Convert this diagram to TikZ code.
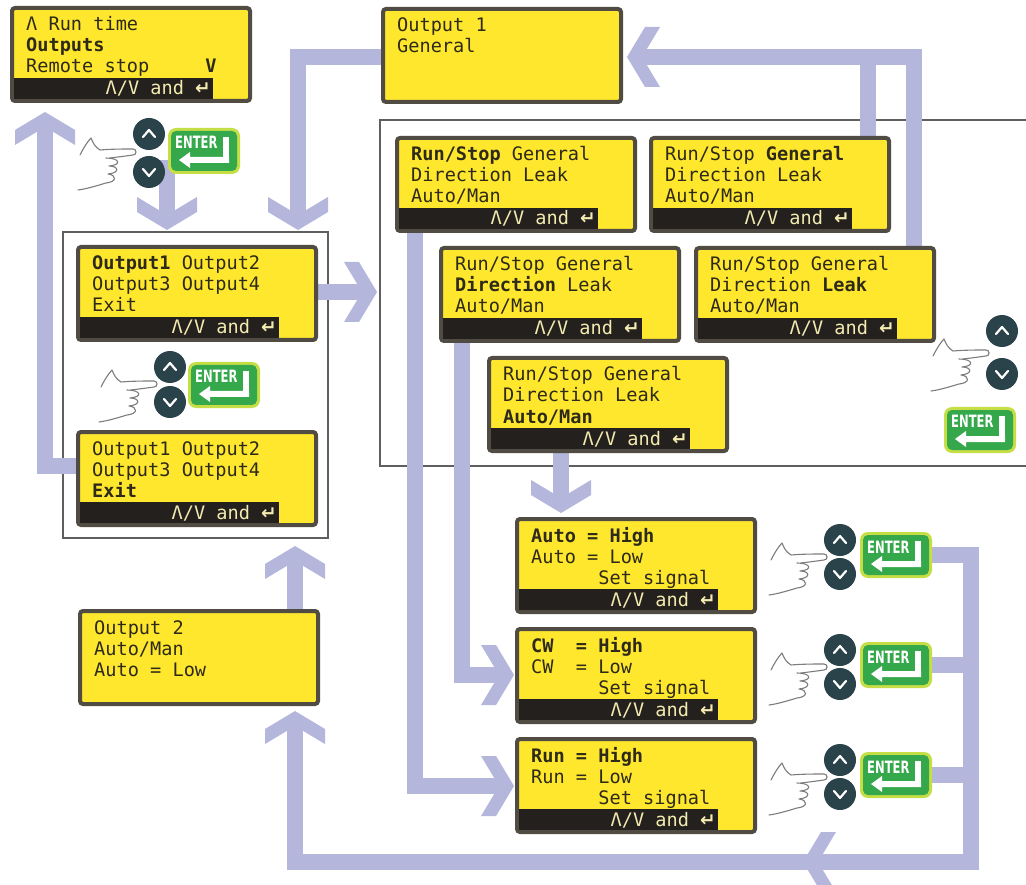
\documentclass[tikz,border=0pt]{standalone}
\usepackage{fontspec}
\newfontfamily\lcdfam{DejaVu Sans Mono}
\newfontfamily\symfam{DejaVu Sans}
\newfontfamily\entfam{DejaVu Sans}[FakeStretch=0.68]
\usetikzlibrary{arrows.meta}
\pgfdeclarelayer{bg}
\pgfsetlayers{bg,main}

\definecolor{lcdyellow}{RGB}{255,231,45}
\definecolor{lcdborder}{RGB}{80,76,68}
\definecolor{lcdtext}{RGB}{45,42,25}
\definecolor{barblack}{RGB}{35,32,30}
\definecolor{bartext}{RGB}{242,234,175}
\definecolor{lav}{RGB}{180,182,220}
\definecolor{framegray}{RGB}{95,95,95}
\definecolor{btncol}{RGB}{42,66,74}
\definecolor{entgreen}{RGB}{52,168,74}
\definecolor{entglowc}{RGB}{198,222,70}
\definecolor{handgray}{RGB}{125,125,125}

\pgfdeclarearrow{
  name = Chev,
  parameters = {},
  setup code = {
    \pgfarrowssettipend{0pt}
    \pgfarrowssetlineend{-14pt}
    \pgfarrowssetvisualbackend{-33pt}
    \pgfarrowssetbackend{-33pt}
    \pgfarrowshullpoint{0pt}{0pt}
    \pgfarrowsupperhullpoint{-33pt}{30pt}
  },
  drawing code = {
    \pgfpathmoveto{\pgfqpoint{0pt}{0pt}}
    \pgfpathlineto{\pgfqpoint{-18pt}{30pt}}
    \pgfpathlineto{\pgfqpoint{-33pt}{30pt}}
    \pgfpathlineto{\pgfqpoint{-15pt}{0pt}}
    \pgfpathlineto{\pgfqpoint{-33pt}{-30pt}}
    \pgfpathlineto{\pgfqpoint{-18pt}{-30pt}}
    \pgfpathclose
    \pgfusepathqfill
  },
}

\newcommand\lcdfont{\lcdfam\fontsize{18.6}{21}\selectfont}
\tikzset{
  lcdbox/.style={draw=lcdborder, line width=4pt, fill=lcdyellow, rounded corners=3pt,
    minimum width=238pt, minimum height=93pt, inner sep=0pt, outer sep=0pt},
  lcdtxt/.style={anchor=base west, inner sep=0pt, text=lcdtext, font=\lcdfont},
  bartxt/.style={anchor=base east, inner sep=0pt, text=bartext, font=\lcdfont},
  flow/.style={draw=lav, line width=16pt, -{Chev}},
  frameline/.style={draw=framegray, line width=2pt},
  btn/.style={circle, fill=btncol, minimum size=32pt, inner sep=0pt},
  chevw/.style={draw=white, line width=2.2pt, line cap=round, line join=round},
  handline/.style={draw=handgray, line width=1.1pt, line cap=round, line join=round},
  entglow/.style={rounded corners=8pt, fill=entglowc, minimum width=72pt, minimum height=46pt, inner sep=0pt},
  enttxt/.style={anchor=base west, inner sep=0pt, text=white, font=\entfam\bfseries\fontsize{17}{17}\selectfont},
}

% LCD: name, x, y (top-left), three lines
\newcommand\mklcd[6]{%
  \node[lcdbox] (#1) at (#2+119,#3+46.5) {};
  \node[lcdtxt] (#1-a) at (#2+14,#3+23) {#4};
  \node[lcdtxt] (#1-b) at (#2+14,#3+44) {#5};
  \node[lcdtxt] (#1-c) at (#2+14,#3+65) {#6};
}
\newcommand\mkbar[3]{%
  \fill[barblack] (#2+2,#3+70) rectangle (#2+201,#3+91);
  \node[bartxt] (#1-bar) at (#2+199,#3+87) {Λ/V and {\symfam\bfseries ↵}};
}
% up/down buttons: name, cx, cy up, cy down
\newcommand\mkbtns[4]{%
  \node[btn] (#1-u) at (#2,#3) {};
  \node[btn] (#1-d) at (#2,#4) {};
  \draw[chevw] (#2-6,#3+3) -- (#2,#3-4) -- (#2+6,#3+3);
  \draw[chevw] (#2-6,#4-3) -- (#2,#4+4) -- (#2+6,#4-3);
}
% enter button: name, cx, cy
\newcommand\mkenter[3]{%
  \node[entglow] (#1) at (#2,#3) {};
  \fill[entgreen, rounded corners=5pt] (#2-33,#3-20) rectangle (#2+33,#3+20);
  \node[enttxt] (#1-t) at (#2-29,#3-2) {ENTER};
  \fill[white] (#2+19,#3-14) rectangle (#2+25,#3+12);
  \fill[white] (#2+25,#3+6) -- (#2-14,#3+6) -- (#2-14,#3+1) -- (#2-25,#3+9)
     -- (#2-14,#3+17) -- (#2-14,#3+12) -- (#2+25,#3+12) -- cycle;
}
% hand: fingertip x, y
\newcommand\mkhand[2]{%
  \begin{scope}[shift={(#1,#2)}]
  \draw[handline] (-56,2) .. controls (-52,-6) and (-48,-12) .. (-45,-15)
     .. controls (-43,-10) and (-41,-6) .. (-36,-3)
     .. controls (-25,-4) and (-12,-4) .. (-3,-4)
     .. controls (1,-4) and (1,2) .. (-3,2)
     .. controls (-10,3) and (-18,4) .. (-26,5);
  \draw[handline] (-30,5) .. controls (-16,5) and (-14,12) .. (-27,13)
     .. controls (-17,13) and (-16,20) .. (-28,21)
     .. controls (-19,22) and (-19,29) .. (-30,30)
     .. controls (-40,33) and (-50,36) .. (-58,37);
  \end{scope}
}

\begin{document}
\begin{tikzpicture}[x=1pt,y=-1pt]
\begin{pgfonlayer}{bg}
\fill[white] (0,0) rectangle (1026,885);
\end{pgfonlayer}
\useasboundingbox (0,0) rectangle (1026,885);

% ---------- LCD displays ----------
\mklcd{A}{12}{8}{Λ Run time}{\textbf{Outputs}}{Remote~stop~~~~~\textbf{V}}
\mkbar{A}{12}{8}
\mklcd{Out1}{383}{9}{Output~1}{General}{}
\mklcd{RS1}{397}{138}{\textbf{Run/Stop} General}{Direction Leak}{Auto/Man}
\mkbar{RS1}{397}{138}
\mklcd{RS2}{651}{138}{Run/Stop \textbf{General}}{Direction Leak}{Auto/Man}
\mkbar{RS2}{651}{138}
\mklcd{D1}{441}{248}{Run/Stop General}{\textbf{Direction} Leak}{Auto/Man}
\mkbar{D1}{441}{248}
\mklcd{D2}{696}{248}{Run/Stop General}{Direction \textbf{Leak}}{Auto/Man}
\mkbar{D2}{696}{248}
\mklcd{AM}{489}{358}{Run/Stop General}{Direction Leak}{\textbf{Auto/Man}}
\mkbar{AM}{489}{358}
\mklcd{O1}{78}{247}{\textbf{Output1} Output2}{Output3 Output4}{Exit}
\mkbar{O1}{78}{247}
\mklcd{EX}{78}{432}{Output1 Output2}{Output3 Output4}{\textbf{Exit}}
\mkbar{EX}{78}{432}
\mklcd{Out2}{80}{611}{Output~2}{Auto/Man}{Auto~=~Low}
\mklcd{AH}{517}{519}{\textbf{Auto~=~High}}{Auto~=~Low}{~~~~~~Set~signal}
\mkbar{AH}{517}{519}
\mklcd{CW}{517}{629}{\textbf{CW~~=~High}}{CW~~=~Low}{~~~~~~Set~signal}
\mkbar{CW}{517}{629}
\mklcd{RUN}{517}{739}{\textbf{Run~=~High}}{Run~=~Low}{~~~~~~Set~signal}
\mkbar{RUN}{517}{739}

% ---------- buttons ----------
\mkbtns{g1}{149}{134}{172}
\mkenter{e1}{204}{151}
\mkhand{136}{153}

\mkbtns{g2}{170}{367}{402}
\mkenter{e2}{224}{385}
\mkhand{157}{385}

\mkbtns{g3}{1002}{331}{374}
\mkenter{e3}{980}{430}
\mkhand{989}{354}

\mkbtns{g4}{840}{540}{574}
\mkenter{e4}{896}{555}
\mkhand{827}{558}

\mkbtns{g5}{840}{650}{684}
\mkenter{e5}{896}{665}
\mkhand{827}{668}

\mkbtns{g6}{840}{760}{794}
\mkenter{e6}{896}{775}
\mkhand{827}{778}

% ---------- frames and connectors (behind) ----------
\begin{pgfonlayer}{bg}
\draw[frameline] (1026,120) -- (380,120) -- (380,466) -- (1026,466);
\draw[frameline] (63,232) rectangle (328,538);

\coordinate (c1) at (45,466);  \coordinate (c1t) at (45,112);
\draw[flow] (EX.west |- c1) -- (c1) -- (c1t);

\coordinate (c2s) at (167,160); \coordinate (c2t) at (167,230);
\draw[flow] (c2s) -- (c2t);

\coordinate (c3) at (298,57); \coordinate (c3t) at (298,230);
\draw[flow] (Out1.west |- c3) -- (c3) -- (c3t);

\coordinate (c4t) at (377,292);
\draw[flow] (O1.east |- c4t) -- (c4t);

\coordinate (c5) at (914,57); \coordinate (c5t) at (627,57); \coordinate (c5b) at (868,57);
\draw[flow] (D2.north -| c5) -- (c5) -- (c5t);
\draw[flow,-] (RS2.north -| c5b) -- (c5b);

\coordinate (c6) at (415,786); \coordinate (c6t) at (514,786);
\draw[flow] (RS1.south -| c6) -- (c6) -- (c6t);

\coordinate (c7) at (462,675); \coordinate (c7t) at (514,675);
\draw[flow] (D1.south -| c7) -- (c7) -- (c7t);

\coordinate (c8t) at (561,513);
\draw[flow] (AM.south -| c8t) -- (c8t);

\coordinate (c9) at (971,862); \coordinate (c9t) at (803,862);
\draw[flow] (e4.east) -- (e4.east -| c9) -- (c9) -- (c9t);
\draw[flow,-] (e5.east) -- (e5.east -| c9);
\draw[flow,-] (e6.east) -- (e6.east -| c9);

\coordinate (c10) at (818,862); \coordinate (c11) at (295,862); \coordinate (c11t) at (295,711);
\draw[flow] (c10) -- (c11) -- (c11t);

\coordinate (c12t) at (295,546);
\draw[flow] (Out2.north -| c12t) -- (c12t);
\end{pgfonlayer}
\end{tikzpicture}
\end{document}
